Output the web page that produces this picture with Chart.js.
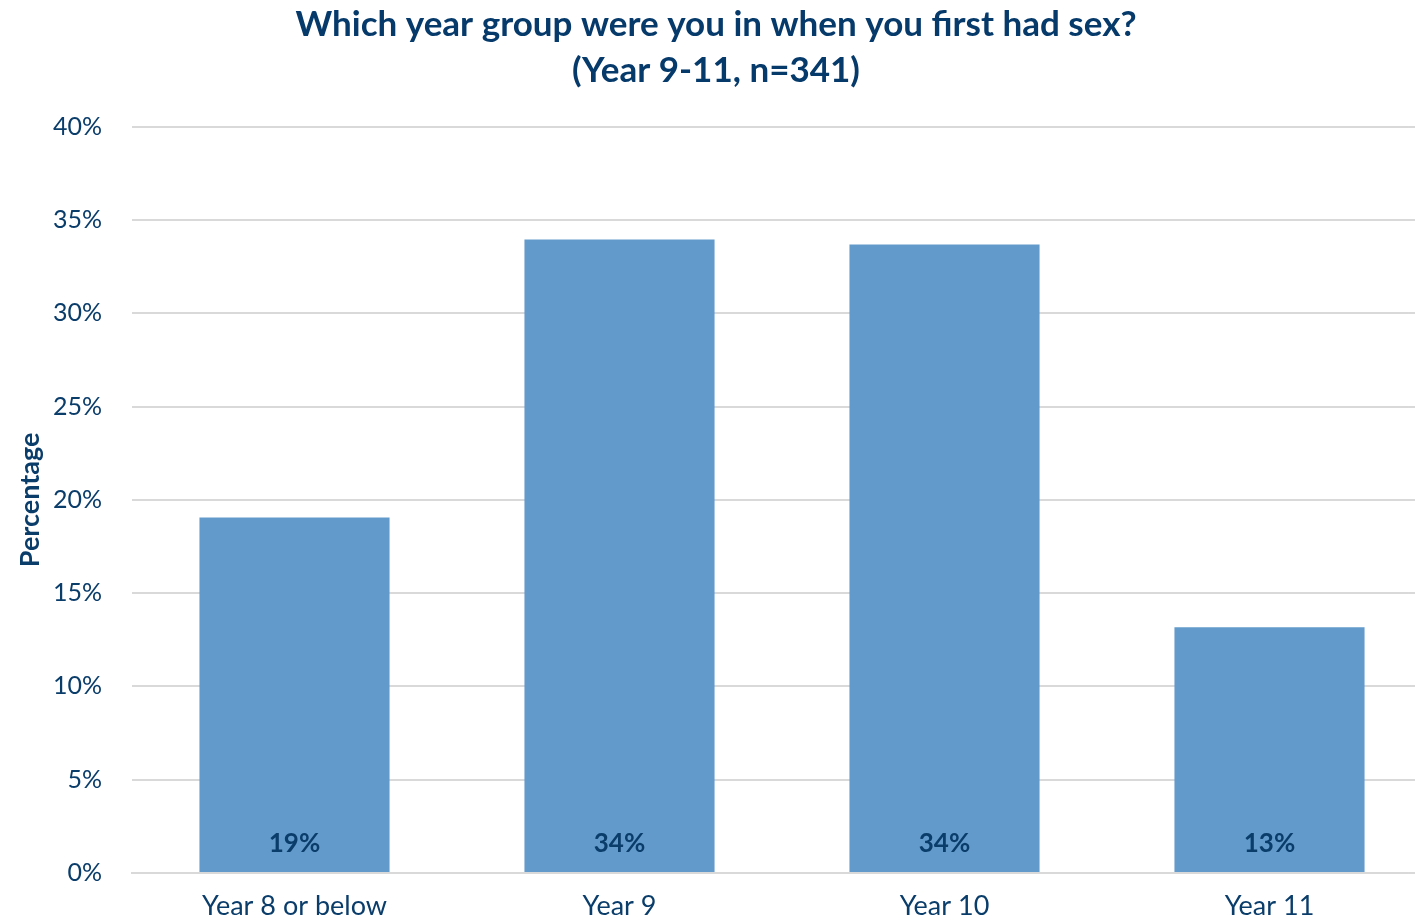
<!DOCTYPE html>
<html lang="en">
<head>
  <meta charset="UTF-8">
  <title>Year group at first sex</title>
  <script src="https://cdn.jsdelivr.net/npm/chart.js"></script>
  <style>
    html, body { margin: 0; padding: 0; background: #fff; overflow: hidden; }
    /* o gráfico original continua além da borda direita */
    #wrap { width: 1432px; height: 923px; }
  </style>
</head>
<body>
  <div id="wrap"><canvas id="grafico"></canvas></div>

  <script>
    const categorias = ["Year 8 or below", "Year 9", "Year 10", "Year 11"];
    const valores = [19.05, 33.96, 33.68, 13.17];
    const rotulos = ["19%", "34%", "34%", "13%"];
    const ticksY = [0, 5, 10, 15, 20, 25, 30, 35, 40];

    const corTexto = "#0b3d6b";
    const fonte = "Lato, 'Open Sans', sans-serif";

    // rótulos dentro da barra, junto à base
    const rotulosBase = {
      id: "rotulosBase",
      afterDatasetsDraw(chart) {
        const ctx = chart.ctx;
        const meta = chart.getDatasetMeta(0);
        ctx.save();
        ctx.font = "bold 26px " + fonte;
        ctx.fillStyle = corTexto;
        ctx.textAlign = "center";
        ctx.textBaseline = "middle";
        meta.data.forEach((barra, i) => {
          ctx.fillText(rotulos[i], barra.x, barra.base - 28);
        });
        ctx.restore();
      }
    };

    new Chart(document.getElementById("grafico"), {
      type: "bar",
      data: {
        labels: categorias,
        datasets: [{
          data: valores,
          backgroundColor: "#629bcb",
          categoryPercentage: 1,
          barPercentage: 0.585
        }]
      },
      options: {
        responsive: true,
        maintainAspectRatio: false,
        animation: false,
        layout: { padding: { left: 0, right: 0, top: 2, bottom: 0 } },
        scales: {
          y: {
            min: 0,
            max: 40,
            afterBuildTicks: axis => { axis.ticks = ticksY.map(v => ({ value: v })); },
            afterFit: axis => { axis.width = 132; },
            grid: { color: "#d9d9d9", lineWidth: 2, drawTicks: false },
            border: { display: false },
            ticks: {
              padding: 30,
              color: corTexto,
              font: { family: fonte, size: 25 },
              callback: v => v + "%"
            },
            title: {
              display: true,
              text: "Percentage",
              color: corTexto,
              font: { family: fonte, size: 27, weight: "bold" },
              padding: { top: 14, bottom: 6 }
            }
          },
          x: {
            afterFit: axis => { axis.height = 50; },
            grid: { display: false, drawTicks: false },
            border: { color: "#d9d9d9", width: 2 },
            ticks: {
              padding: 17,
              color: corTexto,
              font: { family: fonte, size: 27 }
            }
          }
        },
        plugins: {
          legend: { display: false },
          tooltip: { enabled: false },
          title: {
            display: true,
            text: ["Which year group were you in when you first had sex?", "(Year 9-11, n=341)"],
            color: "#063a6b",
            font: { family: fonte, size: 35, weight: "bold", lineHeight: 1.31 },
            padding: { top: 0, bottom: 33 }
          }
        }
      },
      plugins: [rotulosBase]
    });
  </script>
</body>
</html>
